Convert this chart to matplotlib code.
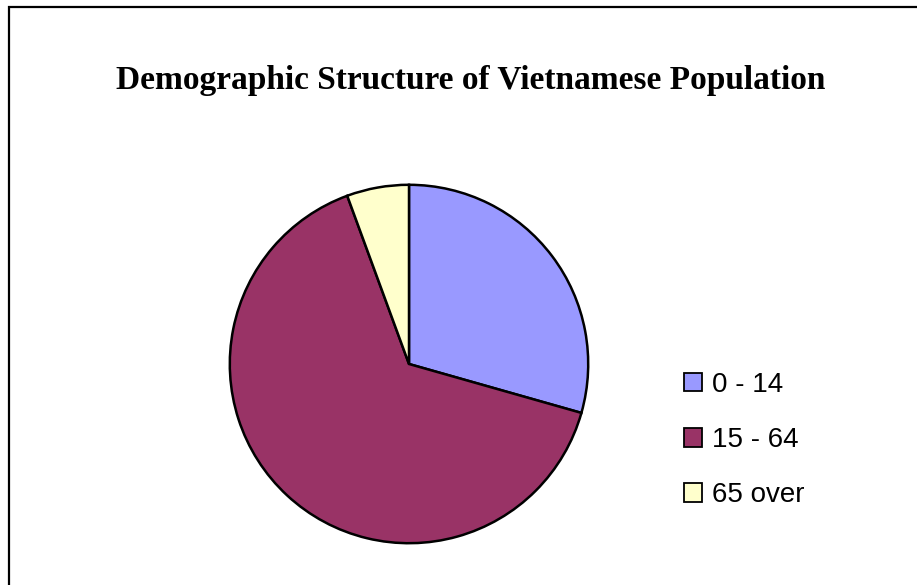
import matplotlib.pyplot as plt
from matplotlib.patches import Rectangle, Patch

labels = ['0 - 14', '15 - 64', '65 over']
shares = [29.4, 65.0, 5.6]
colors = ['#9999FF', '#993366', '#FFFFCC']

fig = plt.figure(figsize=(9.17, 5.85), dpi=100)

# outer chart frame (runs off the right and bottom edges)
fig.patches.append(Rectangle((9 / 917, -0.05), 1.0, 1 - 7 / 585 + 0.05,
                             transform=fig.transFigure, fill=False,
                             edgecolor='black', linewidth=1.6))

fig.text(471 / 917, 1 - 89 / 585, 'Demographic Structure of Vietnamese Population',
         ha='center', va='baseline', fontsize=24, fontweight='bold',
         family='Liberation Serif')

ax = fig.add_axes([228 / 917, 40 / 585, 362 / 917, 362 / 585])
wedges, _ = ax.pie(shares, colors=colors, startangle=90, counterclock=False,
                   radius=1, wedgeprops=dict(edgecolor='black', linewidth=1.8))
ax.set_xlim(-1.01, 1.01)
ax.set_ylim(-1.01, 1.01)
ax.set_aspect('equal')
ax.axis('off')

handles = [Patch(facecolor=c, edgecolor='black', linewidth=1.3) for c in colors]
fig.legend(handles, labels, loc='center left', bbox_to_anchor=(659 / 917, 1 - 440 / 585),
           frameon=False, handlelength=0.65, handleheight=0.65,
           handletextpad=0.36, labelspacing=1.06,
           prop=dict(family='Liberation Sans', size=20))

fig.savefig('out.png', dpi=100, facecolor='white')
